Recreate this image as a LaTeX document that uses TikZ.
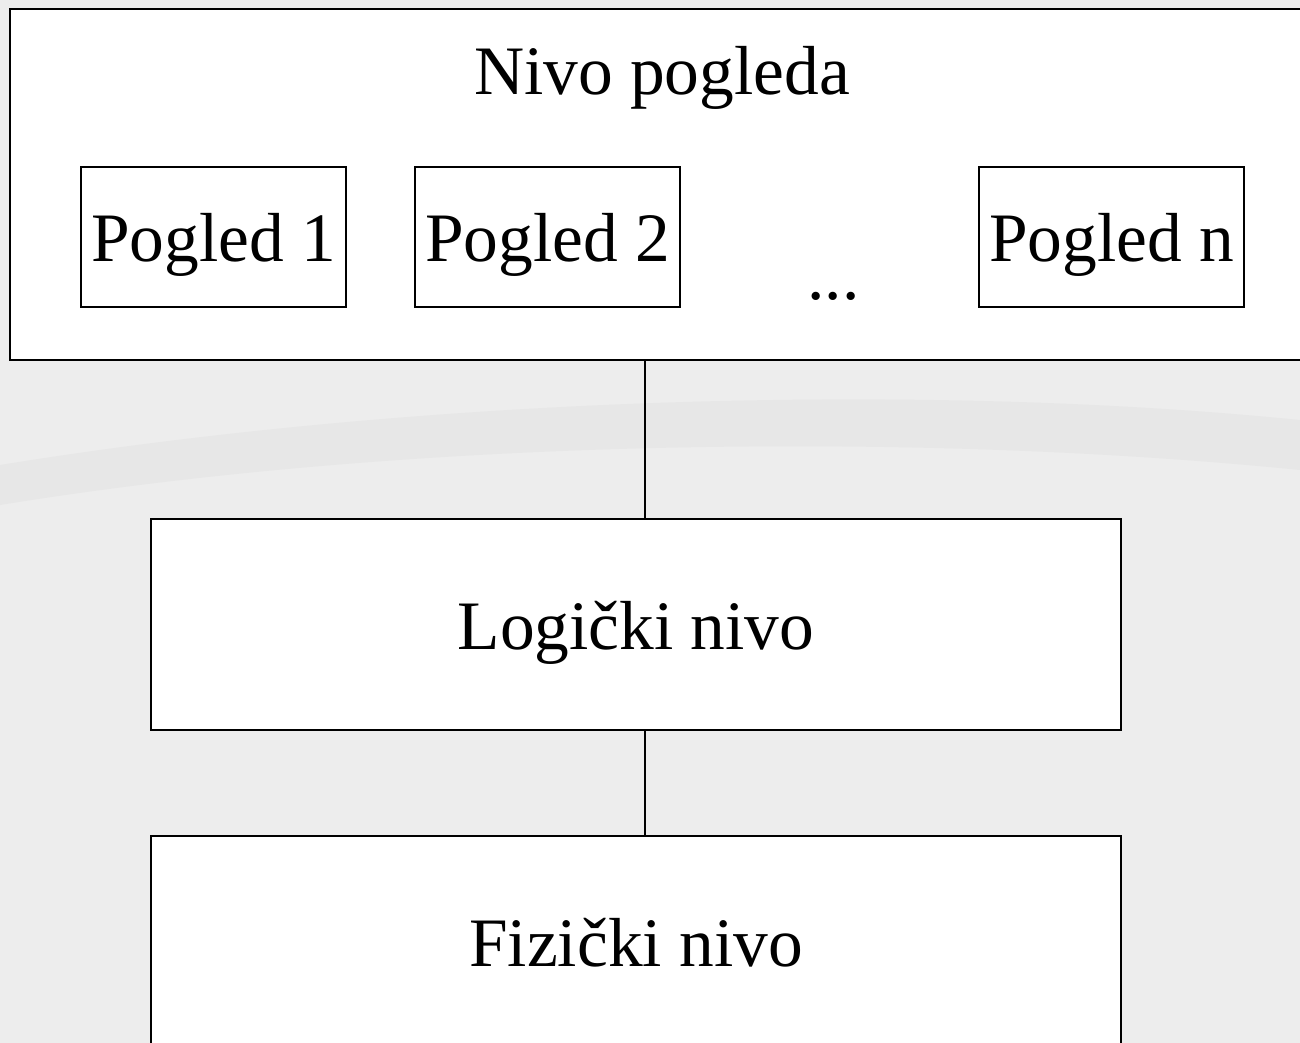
\documentclass[tikz,border=0pt]{standalone}
\usepackage{fontspec}
\setmainfont{Liberation Serif}
\usetikzlibrary{positioning}
\definecolor{slidebg}{RGB}{237,237,237}
\definecolor{slideband}{RGB}{231,231,231}

\begin{document}
\begin{tikzpicture}[x=0.02cm,y=-0.02cm,
  every node/.style={font=\fontsize{39.5}{47}\selectfont},
  level box/.style={draw,line width=1.2pt,fill=white,inner sep=0pt,text height=1.2cm,text depth=0.2cm},
  view box/.style={draw,line width=1pt,fill=white,inner sep=0pt,text height=1.2cm,text depth=0.2cm,minimum width=5.3cm,minimum height=2.8cm},
  link/.style={line width=0.7pt}]

  \clip (0,0) rectangle (1300,1043);
  % slide background
  \fill[slidebg] (0,0) rectangle (1300,1043);
  \fill[slideband] (0,465) .. controls (400,400) and (900,380) .. (1300,420)
    -- (1300,470) .. controls (900,430) and (400,440) .. (0,505) -- cycle;

  % levels
  \node[level box,minimum width=26.08cm,minimum height=7.02cm] (views) at (662,184.5) {};
  \node[anchor=base] (title) at (662,95) {Nivo pogleda};
  \node[view box] (v1) at (213.5,237) {Pogled 1};
  \node[view box] (v2) at (547.5,237) {Pogled 2};
  \node[view box] (vn) at (1111.5,237) {Pogled n};
  \node[anchor=base west,inner sep=0pt] (dots) at (807,300) {...};

  \node[level box,minimum width=19.4cm,minimum height=4.22cm] (logical) at (636,624.5) {Logički nivo};
  \node[level box,minimum width=19.4cm,minimum height=4.22cm] (physical) at (636,941.5) {Fizički nivo};

  \coordinate (axis) at (645,0);
  \draw[link] (views.south -| axis) -- (logical.north -| axis);
  \draw[link] (logical.south -| axis) -- (physical.north -| axis);

\end{tikzpicture}
\end{document}
